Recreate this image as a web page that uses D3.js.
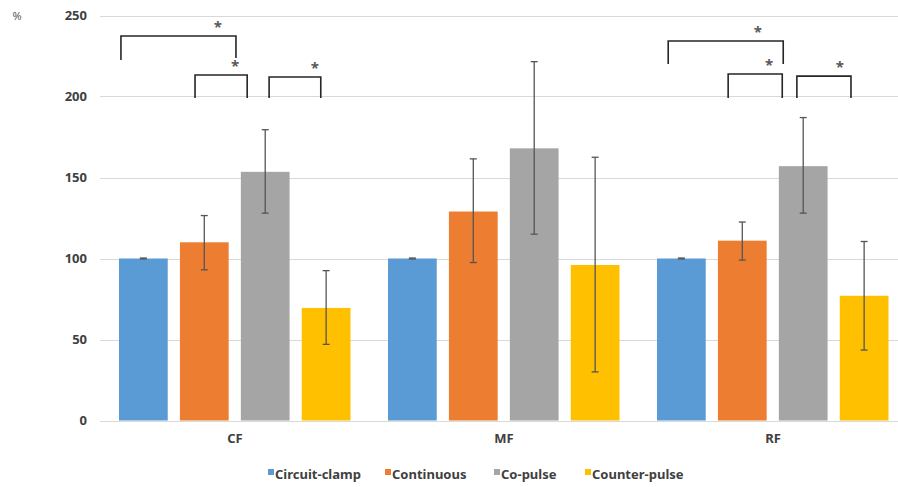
<!DOCTYPE html>
<html>
<head>
<meta charset="utf-8">
<title>Bar chart | D3</title>
<script src="https://d3js.org/d3.v7.min.js"></script>
<style>
body { margin: 0; background: white; font-family: "Noto Sans", "Liberation Sans", sans-serif; }
text { fill: #404040; font-weight: bold; }
</style>
</head>
<body>
<script>
// data
var categories = ["CF", "MF", "RF"];
var seriesNames = ["Circuit-clamp", "Continuous", "Co-pulse", "Counter-pulse"];
var colors = ["#5b9bd5", "#ed7d31", "#a5a5a5", "#ffc000"];
var means = [
  [100, 110, 153.5, 69.5],
  [100, 129, 168, 96],
  [100, 111, 157, 77]
];
var errLow = [
  [99.7, 93, 128, 47],
  [99.7, 97.5, 115, 30],
  [99.7, 99, 128, 43.5]
];
var errHigh = [
  [100.3, 126.5, 179.5, 92.5],
  [100.3, 161.5, 221.5, 162.5],
  [100.3, 122.5, 187, 110.5]
];
var yTicks = [0, 50, 100, 150, 200, 250];
// significance brackets:
// [category, from series, offset in bar widths, to series, offset, top value, left foot, right foot, star series, star offset]
var brackets = [
  ["CF", 0, 0.04, 2, -0.10, 237.3, 222.5, 223.8, 2, -0.47],
  ["CF", 1, 0.31, 2, 0.13, 213.3, 199, 199, 2, -0.12],
  ["CF", 2, 0.58, 3, 0.39, 212, 199, 199, 3, 0.27],
  ["RF", 0, 0.23, 2, 0.09, 234.3, 220, 220, 2, -0.43],
  ["RF", 1, 0.21, 2, 0.07, 213.9, 199, 199, 2, -0.20],
  ["RF", 2, 0.37, 3, 0.23, 212.6, 199, 199, 3, 0.00]
];

var width = 898, height = 487;
var svg = d3.select("body").append("svg")
  .attr("width", width).attr("height", height);

var x0 = d3.scaleBand().domain(categories).range([100.5, 907.5]);
var x1 = d3.scaleBand().domain(d3.range(seriesNames.length))
  .range([18.5, 250]).paddingInner(0.2);
var y = d3.scaleLinear().domain([0, 250]).range([420.5, 15.5]);

// gridlines
svg.append("g").selectAll("line")
  .data(yTicks).enter().append("line")
  .attr("x1", 100).attr("x2", width)
  .attr("y1", function(d) { return Math.round(y(d)) + 0.5; })
  .attr("y2", function(d) { return Math.round(y(d)) + 0.5; })
  .attr("stroke", "#d9d9d9").attr("stroke-width", 1);

// y labels
svg.append("g").selectAll("text")
  .data(yTicks).enter().append("text")
  .attr("x", 87).attr("y", function(d) { return y(d); })
  .attr("dy", "0.35em").attr("text-anchor", "end")
  .style("font-size", "13px")
  .text(function(d) { return d; });

svg.append("text").attr("x", 17).attr("y", 16).attr("dy", "0.35em")
  .attr("text-anchor", "middle").style("font-size", "11px")
  .style("font-weight", "normal").style("fill", "#595959").text("%");

// x labels
svg.append("g").selectAll("text")
  .data(categories).enter().append("text")
  .attr("x", function(d) { return x0(d) + x0.bandwidth() / 2; })
  .attr("y", 438).attr("dy", "0.35em").attr("text-anchor", "middle")
  .style("font-size", "13px")
  .text(function(d) { return d; });

// bars
var groups = svg.append("g").selectAll("g")
  .data(categories).enter().append("g")
  .attr("transform", function(d) { return "translate(" + x0(d) + ",0)"; });

groups.selectAll("rect")
  .data(function(d, i) { return means[i].map(function(v, j) { return {s: j, v: v}; }); })
  .enter().append("rect")
  .attr("x", function(d) { return x1(d.s); })
  .attr("width", x1.bandwidth())
  .attr("y", function(d) { return y(d.v); })
  .attr("height", function(d) { return y(0) - y(d.v); })
  .attr("fill", function(d) { return colors[d.s]; });

// error bars
var errs = groups.selectAll("g.err")
  .data(function(d, i) {
    return means[i].map(function(v, j) { return {s: j, lo: errLow[i][j], hi: errHigh[i][j]}; });
  })
  .enter().append("g").attr("class", "err")
  .attr("stroke", "#555").attr("stroke-width", 1.3);
function cx(d) { return x1(d.s) + x1.bandwidth() / 2; }
errs.append("line")
  .attr("x1", cx).attr("x2", cx)
  .attr("y1", function(d) { return y(d.lo); })
  .attr("y2", function(d) { return y(d.hi); });
errs.append("line")
  .attr("x1", function(d) { return cx(d) - 3.5; })
  .attr("x2", function(d) { return cx(d) + 3.5; })
  .attr("y1", function(d) { return y(d.lo); })
  .attr("y2", function(d) { return y(d.lo); });
errs.append("line")
  .attr("x1", function(d) { return cx(d) - 3.5; })
  .attr("x2", function(d) { return cx(d) + 3.5; })
  .attr("y1", function(d) { return y(d.hi); })
  .attr("y2", function(d) { return y(d.hi); });

// significance brackets
function barPos(cat, s, f) { return x0(cat) + x1(s) + f * x1.bandwidth(); }
var br = svg.append("g").selectAll("g")
  .data(brackets).enter().append("g");
br.append("path")
  .attr("fill", "none").attr("stroke", "#262626").attr("stroke-width", 1.6)
  .attr("d", function(b) {
    var xl = barPos(b[0], b[1], b[2]), xr = barPos(b[0], b[3], b[4]);
    return "M" + xl + "," + y(b[6]) + "V" + y(b[5]) + "H" + xr + "V" + y(b[7]);
  });
br.append("text")
  .attr("x", function(b) { return barPos(b[0], b[8], b[9]); })
  .attr("y", function(b) { return y(b[5]) - 4; })
  .attr("text-anchor", "middle")
  .style("font-size", "15px").style("fill", "#595959")
  .text("*");

// legend
var legendX = [268, 385, 494, 585];
var leg = svg.append("g").selectAll("g")
  .data(seriesNames).enter().append("g")
  .attr("transform", function(d, i) { return "translate(" + legendX[i] + ",0)"; });
leg.append("rect").attr("x", 0).attr("y", 469).attr("width", 6).attr("height", 6)
  .attr("fill", function(d, i) { return colors[i]; });
leg.append("text").attr("x", 7).attr("y", 474).attr("dy", "0.35em")
  .style("font-size", "13px").text(function(d) { return d; });
</script>
</body>
</html>
